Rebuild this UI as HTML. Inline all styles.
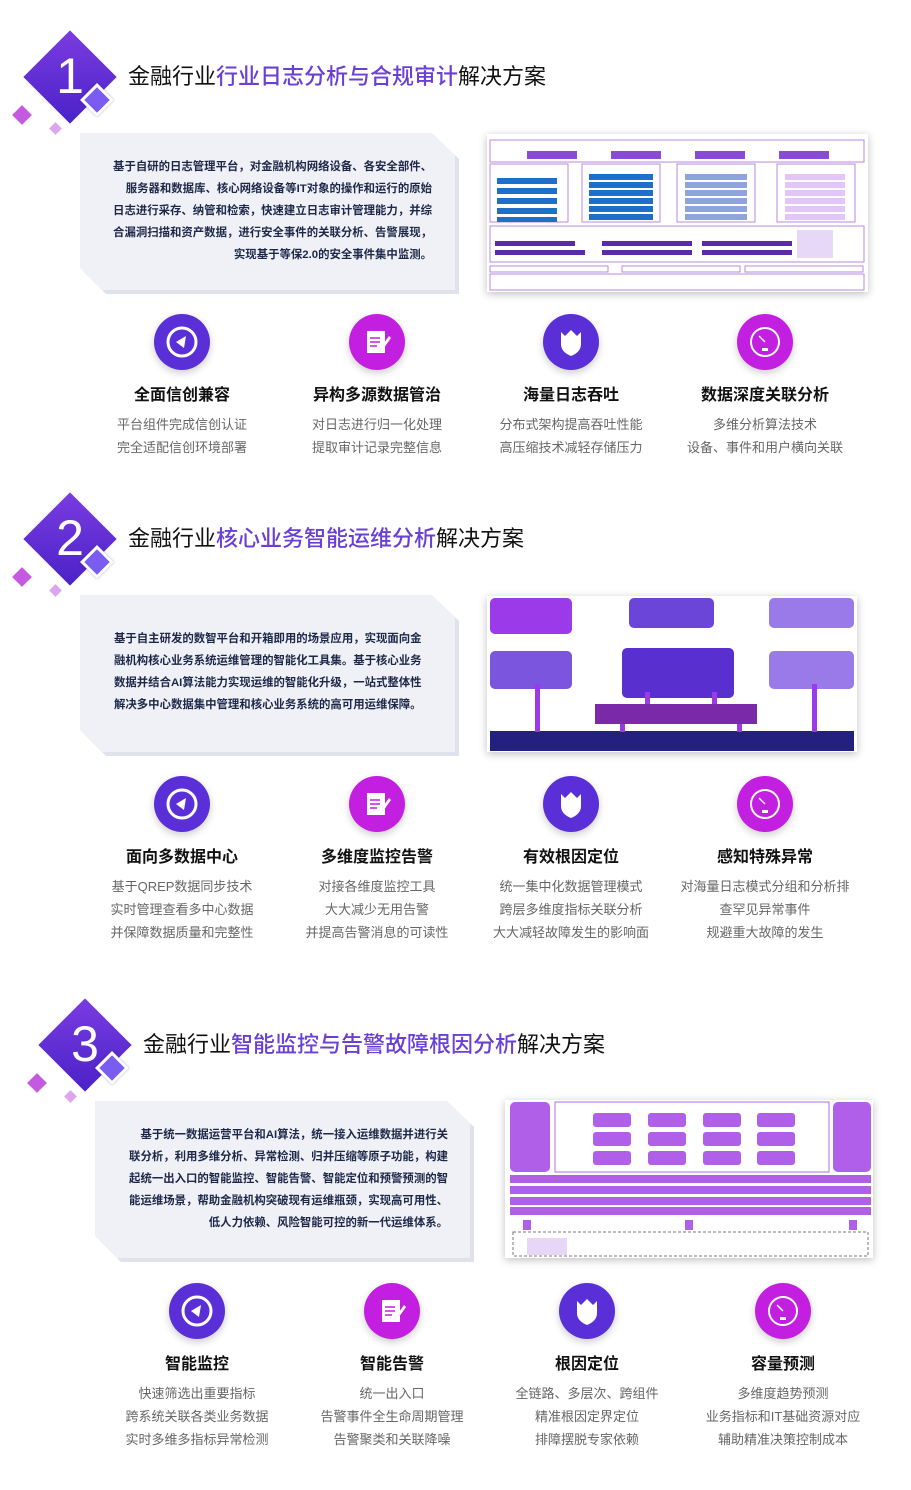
<!DOCTYPE html>
<html><head><meta charset="utf-8"><style>
*{margin:0;padding:0;box-sizing:border-box}
body{width:911px;height:1490px;background:#fff;position:relative;overflow:hidden;font-family:"Liberation Sans","Noto Sans CJK SC",sans-serif}
.dia{position:absolute;width:66px;height:66px;background:linear-gradient(135deg,#7a3ce0,#4a22c8);transform:rotate(45deg)}
.num{position:absolute;color:#fff;font-size:50px;font-weight:300;width:60px;text-align:center;line-height:60px}
.sd{position:absolute;width:24px;height:24px;background:#7b5cf0;border:3px solid #fff;transform:rotate(45deg);box-shadow:0 0 3px rgba(0,0,0,.2)}
.pk{position:absolute;width:14px;height:14px;background:#c45ae0;transform:rotate(45deg)}
.pk2{position:absolute;width:9px;height:9px;background:#dca6ef;transform:rotate(45deg)}
.ttl{position:absolute;font-size:22px;color:#111;white-space:nowrap;line-height:30px}
.ttl b{font-weight:500;color:#6a3fd6}
.box{position:absolute;width:375px;height:157px;background:#eff1f6;clip-path:polygon(0 0,352px 0,375px 22px,375px 157px,22px 157px,0 135px);}
.sh{position:absolute;width:375px;height:157px;background:#dfe2ea;clip-path:polygon(0 0,352px 0,375px 22px,375px 157px,22px 157px,0 135px);}
.txt{position:absolute;font-size:11.4px;color:#1d2748;font-weight:bold;line-height:22px;white-space:nowrap}
.ic{position:absolute;width:56px;height:56px;border-radius:50%;box-shadow:0 3px 8px rgba(0,0,0,.2)}
.p{background:#5a2fd8}.m{background:#c21fe0}
.ic svg{position:absolute;left:0;top:0}
.h{position:absolute;width:190px;text-align:center;font-size:16px;font-weight:bold;color:#111}
.d{position:absolute;width:200px;text-align:center;font-size:13px;color:#666;line-height:23px}
.dg{position:absolute;background:#fff;box-shadow:0 2px 8px rgba(0,0,0,.25);overflow:hidden}
</style></head><body>

<!-- Section 1 -->
<div class="dia" style="left:37px;top:44px"></div>
<div class="num" style="left:40px;top:46px">1</div>
<div class="sd" style="left:85px;top:88px"></div>
<div class="pk" style="left:15px;top:108px"></div>
<div class="pk2" style="left:51px;top:124px"></div>
<div class="ttl" style="left:128px;top:62px">金融行业<b>行业日志分析与合规审计</b>解决方案</div>
<div class="sh" style="left:84px;top:137px"></div>
<div class="box" style="left:80px;top:133px"></div>
<div class="txt" style="left:90px;top:156px;width:342px;text-align:right">基于自研的日志管理平台，对金融机构网络设备、各安全部件、<br>服务器和数据库、核心网络设备等IT对象的操作和运行的原始<br>日志进行采存、纳管和检索，快速建立日志审计管理能力，并综<br>合漏洞扫描和资产数据，进行安全事件的关联分析、告警展现，<br>实现基于等保2.0的安全事件集中监测。</div>
<div class="dg" style="left:487px;top:134px;width:381px;height:158px">
<svg width="381" height="158">
<rect x="3" y="6" width="374" height="22" fill="none" stroke="#b98ae0"/>
<rect x="40" y="17" width="50" height="8" fill="#8a4ad8"/><rect x="124" y="17" width="50" height="8" fill="#8a4ad8"/><rect x="208" y="17" width="50" height="8" fill="#8a4ad8"/><rect x="292" y="17" width="50" height="8" fill="#8a4ad8"/>
<rect x="3" y="30" width="78" height="58" fill="none" stroke="#b98ae0"/><rect x="95" y="30" width="78" height="58" fill="none" stroke="#b98ae0"/><rect x="190" y="30" width="78" height="58" fill="none" stroke="#b98ae0"/><rect x="290" y="30" width="78" height="58" fill="none" stroke="#b98ae0"/>
<g fill="#1e6fc8"><rect x="10" y="44" width="60" height="6"/><rect x="10" y="54" width="60" height="6"/><rect x="10" y="64" width="60" height="6"/><rect x="10" y="74" width="60" height="6"/><rect x="10" y="83" width="60" height="5"/>
<rect x="102" y="40" width="64" height="6"/><rect x="102" y="48" width="64" height="6"/><rect x="102" y="56" width="64" height="6"/><rect x="102" y="64" width="64" height="6"/><rect x="102" y="72" width="64" height="6"/><rect x="102" y="80" width="64" height="6"/></g>
<g fill="#8fa4dc"><rect x="198" y="40" width="62" height="6"/><rect x="198" y="48" width="62" height="6"/><rect x="198" y="56" width="62" height="6"/><rect x="198" y="64" width="62" height="6"/><rect x="198" y="72" width="62" height="6"/><rect x="198" y="80" width="62" height="6"/></g>
<g fill="#e4c6f4"><rect x="298" y="40" width="60" height="6"/><rect x="298" y="48" width="60" height="6"/><rect x="298" y="56" width="60" height="6"/><rect x="298" y="64" width="60" height="6"/><rect x="298" y="72" width="60" height="6"/><rect x="298" y="80" width="60" height="6"/></g>
<rect x="3" y="92" width="374" height="36" fill="none" stroke="#b98ae0"/>
<g fill="#5a2aa8"><rect x="8" y="107" width="80" height="5"/><rect x="115" y="107" width="90" height="5"/><rect x="215" y="107" width="90" height="5"/><rect x="8" y="116" width="90" height="5"/><rect x="115" y="116" width="90" height="5"/><rect x="215" y="116" width="90" height="5"/></g>
<rect x="310" y="96" width="36" height="28" fill="#e6d8f6"/>
<rect x="3" y="132" width="118" height="6" fill="none" stroke="#b98ae0"/><rect x="135" y="132" width="118" height="6" fill="none" stroke="#b98ae0"/><rect x="258" y="132" width="118" height="6" fill="none" stroke="#b98ae0"/>
<rect x="3" y="140" width="374" height="16" fill="none" stroke="#b98ae0"/>
</svg></div>

<div class="ic p" style="left:154px;top:314px"><svg width="56" height="56"><circle cx="28" cy="28" r="14" fill="none" stroke="#fff" stroke-width="3"/><path d="M22 28 L32 22 L30 34 Z" fill="#fff"/></svg></div>
<div class="ic m" style="left:349px;top:314px"><svg width="56" height="56"><rect x="18" y="17" width="18" height="22" fill="#fff"/><g stroke="#c21fe0" stroke-width="1.5"><line x1="21" y1="24" x2="31" y2="24"/><line x1="21" y1="28" x2="31" y2="28"/><line x1="21" y1="32" x2="28" y2="32"/></g><path d="M30 36 L40 22 L42 24 L32 38 Z" fill="#fff"/></svg></div>
<div class="ic p" style="left:543px;top:314px"><svg width="56" height="56"><path d="M18 18 L22 22 L28 16 L34 22 L38 18 L38 30 Q38 38 28 42 Q18 38 18 30 Z" fill="#fff"/></svg></div>
<div class="ic m" style="left:737px;top:314px"><svg width="56" height="56"><circle cx="28" cy="28" r="14" fill="none" stroke="#fff" stroke-width="2"/><line x1="28" y1="28" x2="22" y2="22" stroke="#fff" stroke-width="1.5"/><rect x="25" y="34" width="6" height="3" fill="#fff"/></svg></div>
<div class="h" style="left:87px;top:381px">全面信创兼容</div>
<div class="h" style="left:282px;top:381px">异构多源数据管治</div>
<div class="h" style="left:476px;top:381px">海量日志吞吐</div>
<div class="h" style="left:670px;top:381px">数据深度关联分析</div>
<div class="d" style="left:82px;top:413px">平台组件完成信创认证<br>完全适配信创环境部署</div>
<div class="d" style="left:277px;top:413px">对日志进行归一化处理<br>提取审计记录完整信息</div>
<div class="d" style="left:471px;top:413px">分布式架构提高吞吐性能<br>高压缩技术减轻存储压力</div>
<div class="d" style="left:665px;top:413px">多维分析算法技术<br>设备、事件和用户横向关联</div>

<!-- Section 2 -->
<div class="dia" style="left:37px;top:506px"></div>
<div class="num" style="left:40px;top:508px">2</div>
<div class="sd" style="left:85px;top:550px"></div>
<div class="pk" style="left:15px;top:570px"></div>
<div class="pk2" style="left:51px;top:586px"></div>
<div class="ttl" style="left:128px;top:524px">金融行业<b>核心业务智能运维分析</b>解决方案</div>
<div class="sh" style="left:84px;top:599px"></div>
<div class="box" style="left:80px;top:595px"></div>
<div class="txt" style="left:114px;top:628px;width:330px">基于自主研发的数智平台和开箱即用的场景应用，实现面向金<br>融机构核心业务系统运维管理的智能化工具集。基于核心业务<br>数据并结合AI算法能力实现运维的智能化升级，一站式整体性<br>解决多中心数据集中管理和核心业务系统的高可用运维保障。</div>
<div class="dg" style="left:487px;top:596px;width:370px;height:156px">
<svg width="370" height="156">
<rect x="3" y="2" width="82" height="36" rx="5" fill="#9a3ae8"/>
<rect x="142" y="2" width="85" height="30" rx="5" fill="#6a45d8"/>
<rect x="282" y="2" width="85" height="30" rx="5" fill="#9a7ae8"/>
<rect x="3" y="55" width="82" height="38" rx="5" fill="#7b55dd"/>
<rect x="135" y="52" width="112" height="50" rx="5" fill="#5a2fd0"/>
<rect x="282" y="55" width="85" height="38" rx="5" fill="#9a7ae8"/>
<rect x="108" y="108" width="162" height="20" fill="#7a2aa8"/>
<rect x="3" y="135" width="364" height="20" fill="#242080"/>
<g fill="#9a3ae8"><rect x="48" y="88" width="5" height="48"/><rect x="325" y="88" width="5" height="48"/><rect x="133" y="128" width="5" height="8"/><rect x="250" y="128" width="5" height="8"/><rect x="158" y="96" width="5" height="12"/><rect x="225" y="96" width="5" height="12"/></g>
</svg></div>

<div class="ic p" style="left:154px;top:776px"><svg width="56" height="56"><circle cx="28" cy="28" r="14" fill="none" stroke="#fff" stroke-width="3"/><path d="M22 28 L32 22 L30 34 Z" fill="#fff"/></svg></div>
<div class="ic m" style="left:349px;top:776px"><svg width="56" height="56"><rect x="18" y="17" width="18" height="22" fill="#fff"/><g stroke="#c21fe0" stroke-width="1.5"><line x1="21" y1="24" x2="31" y2="24"/><line x1="21" y1="28" x2="31" y2="28"/><line x1="21" y1="32" x2="28" y2="32"/></g><path d="M30 36 L40 22 L42 24 L32 38 Z" fill="#fff"/></svg></div>
<div class="ic p" style="left:543px;top:776px"><svg width="56" height="56"><path d="M18 18 L22 22 L28 16 L34 22 L38 18 L38 30 Q38 38 28 42 Q18 38 18 30 Z" fill="#fff"/></svg></div>
<div class="ic m" style="left:737px;top:776px"><svg width="56" height="56"><circle cx="28" cy="28" r="14" fill="none" stroke="#fff" stroke-width="2"/><line x1="28" y1="28" x2="22" y2="22" stroke="#fff" stroke-width="1.5"/><rect x="25" y="34" width="6" height="3" fill="#fff"/></svg></div>
<div class="h" style="left:87px;top:843px">面向多数据中心</div>
<div class="h" style="left:282px;top:843px">多维度监控告警</div>
<div class="h" style="left:476px;top:843px">有效根因定位</div>
<div class="h" style="left:670px;top:843px">感知特殊异常</div>
<div class="d" style="left:82px;top:875px">基于QREP数据同步技术<br>实时管理查看多中心数据<br>并保障数据质量和完整性</div>
<div class="d" style="left:277px;top:875px">对接各维度监控工具<br>大大减少无用告警<br>并提高告警消息的可读性</div>
<div class="d" style="left:471px;top:875px">统一集中化数据管理模式<br>跨层多维度指标关联分析<br>大大减轻故障发生的影响面</div>
<div class="d" style="left:665px;top:875px;width:200px">对海量日志模式分组和分析排<br>查罕见异常事件<br>规避重大故障的发生</div>

<!-- Section 3 -->
<div class="dia" style="left:52px;top:1012px"></div>
<div class="num" style="left:55px;top:1014px">3</div>
<div class="sd" style="left:100px;top:1056px"></div>
<div class="pk" style="left:30px;top:1076px"></div>
<div class="pk2" style="left:66px;top:1092px"></div>
<div class="ttl" style="left:143px;top:1030px">金融行业<b>智能监控与告警故障根因分析</b>解决方案</div>
<div class="sh" style="left:99px;top:1105px"></div>
<div class="box" style="left:95px;top:1101px"></div>
<div class="txt" style="left:106px;top:1124px;width:342px;text-align:right">基于统一数据运营平台和AI算法，统一接入运维数据并进行关<br>联分析，利用多维分析、异常检测、归并压缩等原子功能，构建<br>起统一出入口的智能监控、智能告警、智能定位和预警预测的智<br>能运维场景，帮助金融机构突破现有运维瓶颈，实现高可用性、<br>低人力依赖、风险智能可控的新一代运维体系。</div>
<div class="dg" style="left:505px;top:1100px;width:368px;height:158px">
<svg width="368" height="158">
<rect x="5" y="2" width="40" height="70" rx="5" fill="#b060e8"/>
<rect x="50" y="2" width="274" height="70" fill="none" stroke="#b070e0"/>
<rect x="328" y="2" width="38" height="70" rx="5" fill="#b060e8"/>
<g fill="#b060e8"><rect x="88" y="13" width="38" height="14" rx="3"/><rect x="143" y="13" width="38" height="14" rx="3"/><rect x="198" y="13" width="38" height="14" rx="3"/><rect x="252" y="13" width="38" height="14" rx="3"/>
<rect x="88" y="32" width="38" height="14" rx="3"/><rect x="143" y="32" width="38" height="14" rx="3"/><rect x="198" y="32" width="38" height="14" rx="3"/><rect x="252" y="32" width="38" height="14" rx="3"/>
<rect x="88" y="51" width="38" height="14" rx="3"/><rect x="143" y="51" width="38" height="14" rx="3"/><rect x="198" y="51" width="38" height="14" rx="3"/><rect x="252" y="51" width="38" height="14" rx="3"/>
<rect x="5" y="75" width="361" height="8"/><rect x="5" y="86" width="361" height="8"/><rect x="5" y="97" width="361" height="8"/><rect x="5" y="107" width="361" height="8"/>
<rect x="18" y="120" width="8" height="10"/><rect x="180" y="120" width="8" height="10"/><rect x="344" y="120" width="8" height="10"/></g>
<rect x="8" y="132" width="355" height="24" fill="none" stroke="#777" stroke-dasharray="3,2"/>
<rect x="22" y="138" width="40" height="17" fill="#e8d6f6"/>
</svg></div>

<div class="ic p" style="left:169px;top:1283px"><svg width="56" height="56"><circle cx="28" cy="28" r="14" fill="none" stroke="#fff" stroke-width="3"/><path d="M22 28 L32 22 L30 34 Z" fill="#fff"/></svg></div>
<div class="ic m" style="left:364px;top:1283px"><svg width="56" height="56"><rect x="18" y="17" width="18" height="22" fill="#fff"/><g stroke="#c21fe0" stroke-width="1.5"><line x1="21" y1="24" x2="31" y2="24"/><line x1="21" y1="28" x2="31" y2="28"/><line x1="21" y1="32" x2="28" y2="32"/></g><path d="M30 36 L40 22 L42 24 L32 38 Z" fill="#fff"/></svg></div>
<div class="ic p" style="left:559px;top:1283px"><svg width="56" height="56"><path d="M18 18 L22 22 L28 16 L34 22 L38 18 L38 30 Q38 38 28 42 Q18 38 18 30 Z" fill="#fff"/></svg></div>
<div class="ic m" style="left:755px;top:1283px"><svg width="56" height="56"><circle cx="28" cy="28" r="14" fill="none" stroke="#fff" stroke-width="2"/><line x1="28" y1="28" x2="22" y2="22" stroke="#fff" stroke-width="1.5"/><rect x="25" y="34" width="6" height="3" fill="#fff"/></svg></div>
<div class="h" style="left:102px;top:1350px">智能监控</div>
<div class="h" style="left:297px;top:1350px">智能告警</div>
<div class="h" style="left:492px;top:1350px">根因定位</div>
<div class="h" style="left:688px;top:1350px">容量预测</div>
<div class="d" style="left:97px;top:1382px">快速筛选出重要指标<br>跨系统关联各类业务数据<br>实时多维多指标异常检测</div>
<div class="d" style="left:292px;top:1382px">统一出入口<br>告警事件全生命周期管理<br>告警聚类和关联降噪</div>
<div class="d" style="left:487px;top:1382px">全链路、多层次、跨组件<br>精准根因定界定位<br>排障摆脱专家依赖</div>
<div class="d" style="left:683px;top:1382px">多维度趋势预测<br>业务指标和IT基础资源对应<br>辅助精准决策控制成本</div>
</body></html>
